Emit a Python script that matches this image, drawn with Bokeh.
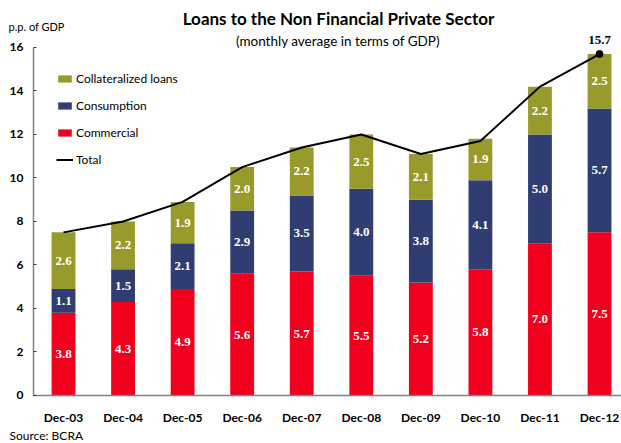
import numpy as np
from bokeh.plotting import figure
from bokeh.models import (ColumnDataSource, LabelSet, Label, Legend, LegendItem,
                          FixedTicker, Range1d)
from bokeh.embed import file_html
from bokeh.resources import INLINE

categories = ["Dec-03", "Dec-04", "Dec-05", "Dec-06", "Dec-07",
              "Dec-08", "Dec-09", "Dec-10", "Dec-11", "Dec-12"]
commercial = [3.8, 4.3, 4.9, 5.6, 5.7, 5.5, 5.2, 5.8, 7.0, 7.5]
consumption = [1.1, 1.5, 2.1, 2.9, 3.5, 4.0, 3.8, 4.1, 5.0, 5.7]
collateralized = [2.6, 2.2, 1.9, 2.0, 2.2, 2.5, 2.1, 1.9, 2.2, 2.5]
total = [7.5, 8.0, 8.9, 10.5, 11.4, 12.0, 11.1, 11.7, 14.2, 15.7]
y_ticks = [0, 2, 4, 6, 8, 10, 12, 14, 16]

RED = "#F0001C"
BLUE = "#2F3D72"
OLIVE = "#989A2C"
FONT = "Lato"

x = list(range(len(categories)))
com = np.array(commercial)
con = np.array(consumption)
col = np.array(collateralized)

src = ColumnDataSource(dict(
    x=x, commercial=commercial, consumption=consumption, collateralized=collateralized,
    total=total,
    com_mid=com / 2, con_mid=com + con / 2, col_mid=com + con + col / 2,
    com_lbl=[f"{v:.1f}" for v in commercial],
    con_lbl=[f"{v:.1f}" for v in consumption],
    col_lbl=[f"{v:.1f}" for v in collateralized],
))

X0, X1 = -0.504, 9.369   # axis extent
p = figure(width=621, height=443, output_backend="svg", toolbar_location=None,
           x_range=Range1d(-1.058, 9.369), y_range=Range1d(-2.207, 18.16),
           min_border_left=0, min_border_right=0, min_border_top=0,
           min_border_bottom=0)
p.outline_line_color = None
p.xgrid.visible = False
p.ygrid.visible = False
p.background_fill_color = "white"
p.border_fill_color = "white"

rs = p.vbar_stack(["commercial", "consumption", "collateralized"], x="x", width=0.4,
                  color=[RED, BLUE, OLIVE], line_color=None, source=src)

ln = p.line("x", "total", source=src, line_color="black", line_width=2)
last = ColumnDataSource(dict(x=[x[-1]], y=[total[-1]], t=[f"{total[-1]:.1f}"]))
p.scatter("x", "y", source=last, size=7, color="black")
p.add_layout(LabelSet(x="x", y="y", text="t", source=last, text_align="center",
                      text_baseline="bottom", y_offset=10, text_font=FONT,
                      text_font_style="bold", text_font_size="13px", text_color="black"))

for ycol, tcol in [("com_mid", "com_lbl"), ("con_mid", "con_lbl"), ("col_mid", "col_lbl")]:
    p.add_layout(LabelSet(x="x", y=ycol, text=tcol, source=src, text_align="center",
                          text_baseline="middle", text_font=FONT, text_font_style="bold",
                          text_font_size="13px", text_color="white"))

# axes (kept in their side panels, drawn at fixed locations)
p.yaxis.fixed_location = X0
p.yaxis.ticker = FixedTicker(ticks=y_ticks)
p.yaxis.bounds = (0, 16)
p.yaxis.axis_line_color = "#808080"
p.yaxis.axis_line_width = 1.5
p.yaxis.major_tick_in = 3
p.yaxis.major_tick_out = 0
p.yaxis.major_tick_line_color = "#404040"
p.yaxis.minor_tick_line_color = None
p.yaxis.major_label_standoff = 10
p.yaxis.major_label_text_font = FONT
p.yaxis.major_label_text_font_style = "bold"
p.yaxis.major_label_text_font_size = "12px"
p.yaxis.major_label_text_color = "black"

p.xaxis.fixed_location = 0
p.xaxis.ticker = FixedTicker(ticks=x)
p.xaxis.bounds = (X0, X1)
p.xaxis.major_label_overrides = {i: c for i, c in zip(x, categories)}
p.xaxis.axis_line_color = "#808080"
p.xaxis.axis_line_width = 1.5
p.xaxis.major_tick_line_color = None
p.xaxis.major_tick_in = 0
p.xaxis.major_tick_out = 0
p.xaxis.minor_tick_line_color = None
p.xaxis.major_label_standoff = 15
p.xaxis.major_label_text_font = FONT
p.xaxis.major_label_text_font_style = "bold"
p.xaxis.major_label_text_font_size = "12px"
p.xaxis.major_label_text_color = "black"

# legend
legend = Legend(items=[
    LegendItem(label="Collateralized loans", renderers=[rs[2]]),
    LegendItem(label="Consumption", renderers=[rs[1]]),
    LegendItem(label="Commercial", renderers=[rs[0]]),
    LegendItem(label="Total", renderers=[ln]),
], location=(56, 274), padding=0, margin=0, spacing=7, label_height=20,
    glyph_width=17, glyph_height=9, label_standoff=3,
    label_text_font=FONT, label_text_font_size="12px", label_text_color="black",
    border_line_color=None, background_fill_alpha=0)
p.add_layout(legend)

# texts
p.add_layout(Label(x=4.617, y=17.33, text="Loans to the Non Financial Private Sector",
                   text_align="center", text_baseline="middle", text_font=FONT,
                   text_font_style="bold", text_font_size="17px", text_color="black"))
p.add_layout(Label(x=4.609, y=16.28, text="(monthly average in terms of GDP)",
                   text_align="center", text_baseline="middle", text_font=FONT,
                   text_font_size="13.5px", text_color="black"))
p.add_layout(Label(x=-0.923, y=16.97, text="p.p. of GDP", text_align="left",
                   text_baseline="middle", text_font=FONT, text_font_size="11px",
                   text_color="black"))
p.add_layout(Label(x=-0.907, y=-1.82, text="Source: BCRA", text_align="left",
                   text_baseline="middle", text_font=FONT, text_font_size="12px",
                   text_color="black"))

open("out.html", "w").write(file_html(p, INLINE))
